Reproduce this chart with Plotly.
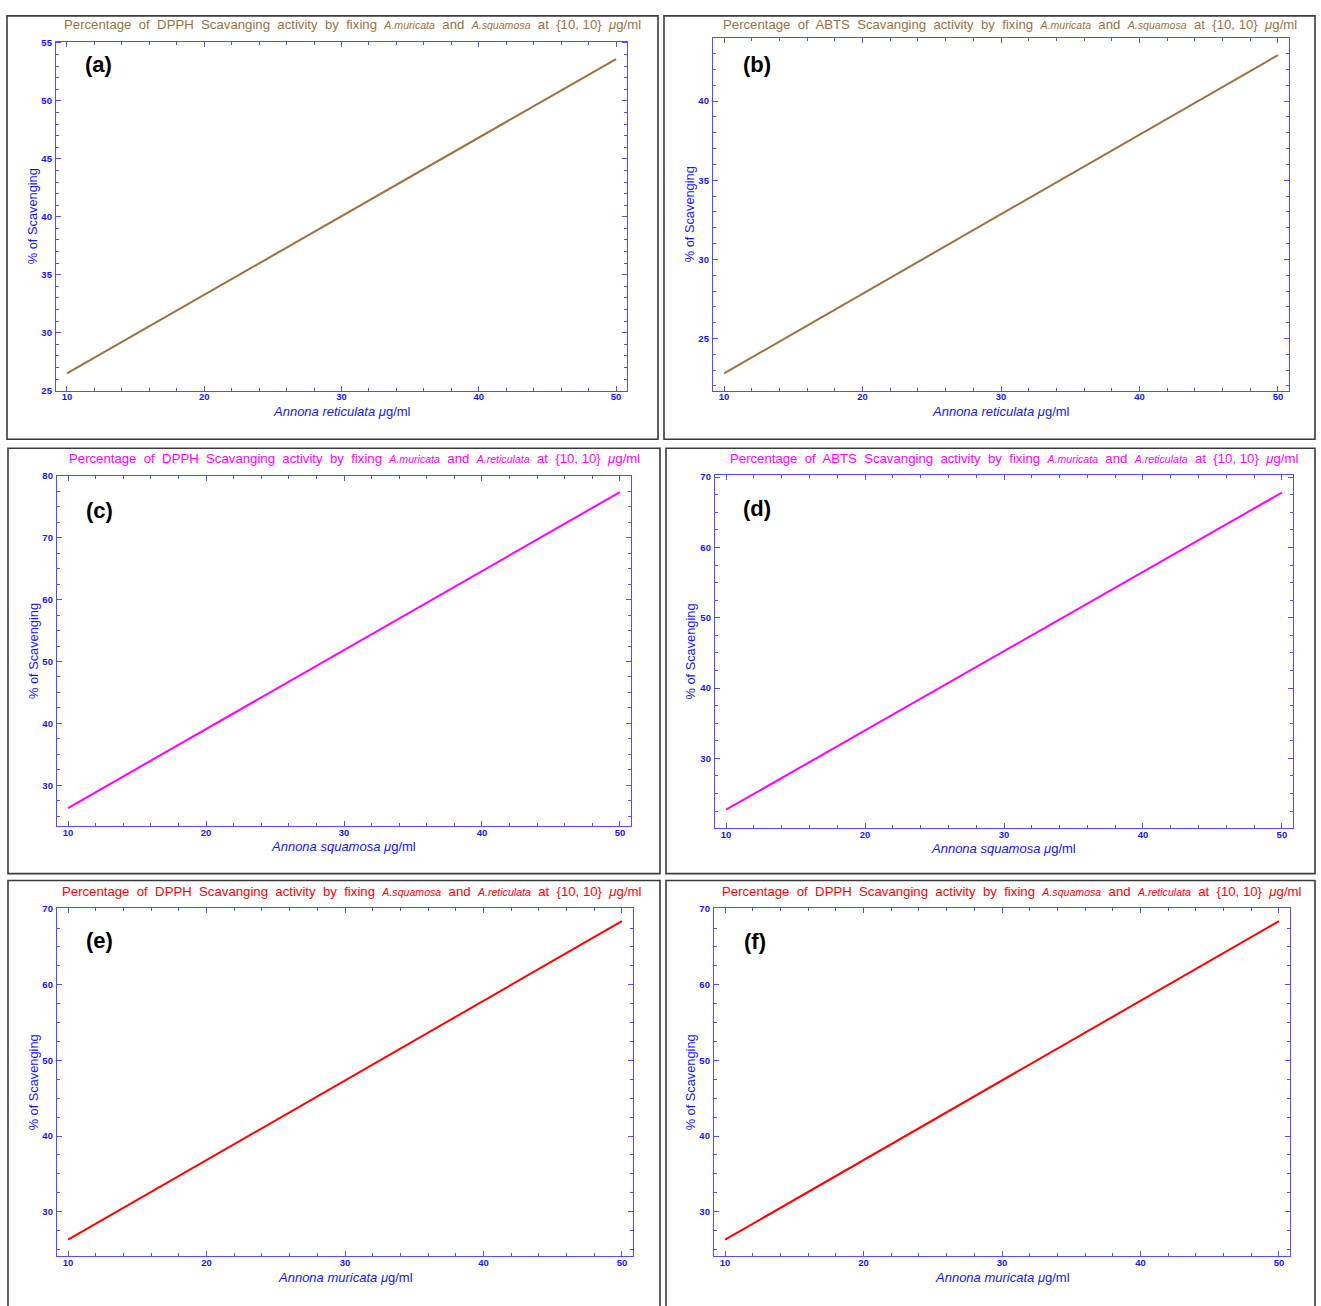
import plotly.graph_objects as go

W, H = 1321, 1306

# Concentration of the varied extract (µg/ml)
conc = [10, 50]

# % scavenging predicted at each end of the concentration range
dpph_fix_mur_squ = [26.5, 53.6]   # (a) varying A. reticulata
abts_fix_mur_squ = [22.8, 42.9]   # (b) varying A. reticulata
dpph_fix_mur_ret = [26.3, 77.4]   # (c) varying A. squamosa
abts_fix_mur_ret = [22.7, 67.8]   # (d) varying A. squamosa
dpph_fix_squ_ret = [26.3, 68.4]   # (e) varying A. muricata
dpph_fix_squ_ret_2 = [26.3, 68.4] # (f) varying A. muricata

panel_tags = ["(a)", "(b)", "(c)", "(d)", "(e)", "(f)"]
assays = ["DPPH", "ABTS", "DPPH", "ABTS", "DPPH", "DPPH"]
fixed_pairs = [("A.muricata", "A.squamosa"), ("A.muricata", "A.squamosa"),
               ("A.muricata", "A.reticulata"), ("A.muricata", "A.reticulata"),
               ("A.squamosa", "A.reticulata"), ("A.squamosa", "A.reticulata")]
varied = ["Annona reticulata", "Annona reticulata", "Annona squamosa",
          "Annona squamosa", "Annona muricata", "Annona muricata"]
series = [dpph_fix_mur_squ, abts_fix_mur_squ, dpph_fix_mur_ret,
          abts_fix_mur_ret, dpph_fix_squ_ret, dpph_fix_squ_ret_2]

colors = ["#a0703c", "#a0703c", "#ff00ff", "#ff00ff", "#ff0000", "#ff0000"]

# plot boxes in pixels: (left, top, right, bottom)
plot_boxes = [(56, 36, 627, 388), (713, 32, 1289, 388),
              (57, 474, 631, 827), (715, 473, 1293, 829),
              (57, 910, 633, 1261), (714, 910, 1290, 1261)]
# outer panel frames in pixels
frames = [(7, 10, 658, 437), (664, 10, 1315, 437),
          (8, 446, 660, 875), (666, 446, 1315, 875),
          (8, 882, 660, 1312), (666, 882, 1315, 1312)]
y_ranges = [(25, 55.1), (21.7, 44.0), (23.4, 80.0), (20.1, 70.3),
            (24.1, 70.1), (24.1, 70.1)]
y_major = [5, 5, 10, 10, 10, 10]
y_minor = [1, 1, 2.5, 2.5, 2.5, 2.5]
title_pos = [(352, 19), (1010, 19), (354, 456), (1014, 456),
             (352, 893), (1012, 893)]
xtitle_x = [342, 1001, 343, 1003, 345, 1002]
tag_pos = [(98, 59), (757, 59), (99, 509), (757, 507), (99, 942), (755, 943)]


def px(x):
    return x / W


def py(y):
    return 1 - y / H


AXIS_BLUE = "#5050ff"
TEXT_BLUE = "#1515ff"
FONT = "Arial, Liberation Sans, sans-serif"

fig = go.Figure()
shapes = []
annotations = []


def note(text, x, y, font, **kw):
    annotations.append(dict(text=text, x=px(x), y=py(y), xref="paper",
                            yref="paper", xanchor="center", yanchor="middle",
                            showarrow=False, font=font, **kw))


for i in range(6):
    n = "" if i == 0 else str(i + 1)
    l, t, r, b = plot_boxes[i]
    fig.add_trace(go.Scatter(
        x=conc, y=series[i], mode="lines",
        line=dict(color=colors[i], width=2),
        xaxis="x" + n, yaxis="y" + n, showlegend=False, hoverinfo="skip"))

    common = dict(
        showline=True, linecolor=AXIS_BLUE, linewidth=1.3, mirror="allticks",
        ticks="inside", ticklen=5, tickcolor=AXIS_BLUE, tickwidth=1,
        showgrid=False, zeroline=False,
        tickfont=dict(family=FONT, size=9.5, color=TEXT_BLUE, weight="bold"),
    )
    fig.update_layout(**{
        "xaxis" + n: dict(
            domain=[px(l), px(r)], anchor="y" + n, range=[9.2, 50.8],
            dtick=10, tick0=0, ticklabelstandoff=-3,
            minor=dict(dtick=2, ticklen=3, ticks="inside", tickcolor=AXIS_BLUE),
            **common),
        "yaxis" + n: dict(
            domain=[py(b), py(t)], anchor="x" + n, range=list(y_ranges[i]),
            dtick=y_major[i], tick0=0, ticklabelstandoff=1,
            minor=dict(dtick=y_minor[i], ticklen=3, ticks="inside",
                       tickcolor=AXIS_BLUE),
            **common),
    })

    fl, ft, fr, fb = frames[i]
    shapes.append(dict(type="rect", xref="paper", yref="paper",
                       x0=px(fl), x1=px(fr), y0=py(fb), y1=py(ft),
                       line=dict(color="#3a3a3a", width=1.6), layer="below"))

    a1, a2 = fixed_pairs[i]
    sp = "&nbsp;"
    title = (f"Percentage{sp} of{sp} {assays[i]}{sp} Scavanging{sp} activity{sp} by{sp} fixing{sp} "
             f"<span style='font-size:10.6px'><i>{a1}</i></span>{sp} and{sp} "
             f"<span style='font-size:10.6px'><i>{a2}</i></span>{sp} at{sp} "
             f"{{10, 10}}{sp} <i>μ</i>g/ml")
    tx, ty = title_pos[i]
    note(title, tx, ty, dict(family=FONT, size=13.2, color=colors[i]))

    # x-axis title
    note(f"<i>{varied[i]}</i> <i>μ</i>g/ml", xtitle_x[i], b + 21,
         dict(family=FONT, size=13, color=TEXT_BLUE))
    # y-axis title
    note("% of Scavenging", l - 24, (t + b) / 2,
         dict(family=FONT, size=12.8, color=TEXT_BLUE), textangle=-90)
    # panel tag
    gx, gy = tag_pos[i]
    note(f"<b>{panel_tags[i]}</b>", gx, gy,
         dict(family=FONT, size=22, color="black"))

fig.update_layout(
    width=W, height=H, margin=dict(l=0, r=0, t=0, b=0),
    paper_bgcolor="white", plot_bgcolor="white",
    shapes=shapes, annotations=annotations,
)

fig.write_html("out.html")
